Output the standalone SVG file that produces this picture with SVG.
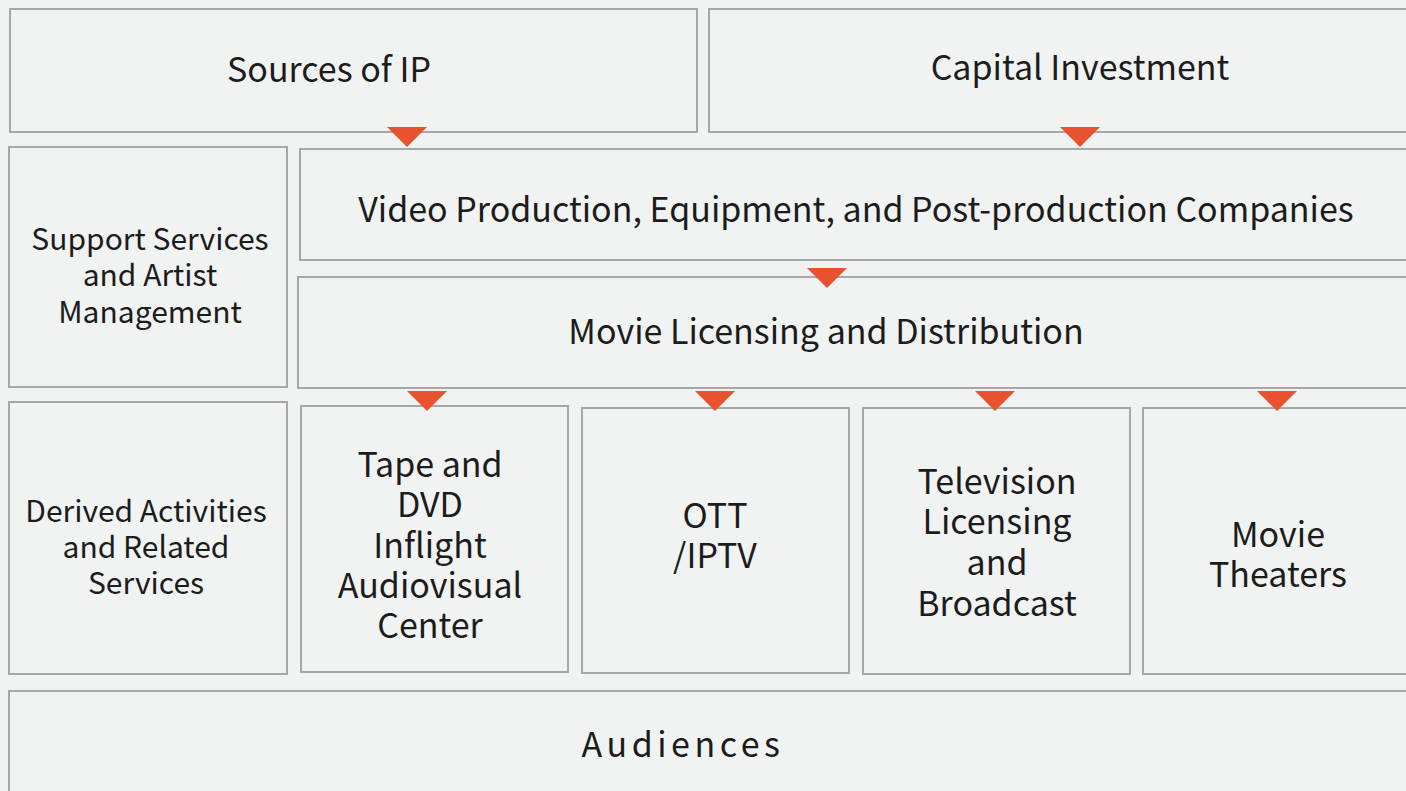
<svg xmlns="http://www.w3.org/2000/svg" width="1406" height="791" viewBox="0 0 1406 791">
<style>
.box{fill:#f1f2f2;stroke:#a7a7a7;stroke-width:2}
.t{font-family:"Noto Sans CJK SC","Noto Sans",sans-serif;font-size:34px;fill:#1c1c1c;text-anchor:middle}
.s{font-size:30px}
.tri{fill:#e8522e}
</style>
<rect x="0" y="0" width="1406" height="791" fill="#f1f2f2"/>
<g id="sources"><rect class="box" x="10" y="9" width="687" height="123"/><text class="t" x="329" y="82">Sources of IP</text></g>
<g id="capital"><rect class="box" x="709" y="9" width="710" height="123"/><text class="t" x="1080" y="80">Capital Investment</text></g>
<g id="support"><rect class="box" x="9" y="147" width="278" height="240"/><text class="t s" x="150" y="250">Support Services</text><text class="t s" x="150" y="286">and Artist</text><text class="t s" x="150" y="323">Management</text></g>
<g id="video"><rect class="box" x="300" y="149" width="1120" height="111"/><text class="t" x="856" y="222">Video Production, Equipment, and Post-production Companies</text></g>
<g id="licensing"><rect class="box" x="298" y="277" width="1120" height="111"/><text class="t" x="826" y="344">Movie Licensing and Distribution</text></g>
<g id="derived"><rect class="box" x="9" y="402" width="278" height="272"/><text class="t s" x="146" y="522">Derived Activities</text><text class="t s" x="146" y="558">and Related</text><text class="t s" x="146" y="594">Services</text></g>
<g id="tape"><rect class="box" x="301" y="406" width="267" height="266"/><text class="t" x="430" y="477">Tape and</text><text class="t" x="430" y="517">DVD</text><text class="t" x="430" y="558">Inflight</text><text class="t" x="430" y="598">Audiovisual</text><text class="t" x="430" y="638">Center</text></g>
<g id="ott"><rect class="box" x="582" y="408" width="267" height="265"/><text class="t" x="715" y="528">OTT</text><text class="t" x="715" y="568">/IPTV</text></g>
<g id="tv"><rect class="box" x="863" y="408" width="267" height="266"/><text class="t" x="997" y="494">Television</text><text class="t" x="997" y="534">Licensing</text><text class="t" x="997" y="575">and</text><text class="t" x="997" y="616">Broadcast</text></g>
<g id="theaters"><rect class="box" x="1143" y="408" width="280" height="266"/><text class="t" x="1278" y="547">Movie</text><text class="t" x="1278" y="587">Theaters</text></g>
<g id="audiences"><rect class="box" x="9" y="691" width="1420" height="120"/><text class="t" x="683" y="757" style="letter-spacing:4.5px">Audiences</text></g>
<g id="connectors">
<polygon class="tri" points="387,127 427,127 407,147"/>
<polygon class="tri" points="1060,127 1100,127 1080,147"/>
<polygon class="tri" points="807,268 847,268 827,288"/>
<polygon class="tri" points="407,391 447,391 427,411"/>
<polygon class="tri" points="695,391 735,391 715,411"/>
<polygon class="tri" points="975,391 1015,391 995,411"/>
<polygon class="tri" points="1257,391 1297,391 1277,411"/>
</g>
</svg>
